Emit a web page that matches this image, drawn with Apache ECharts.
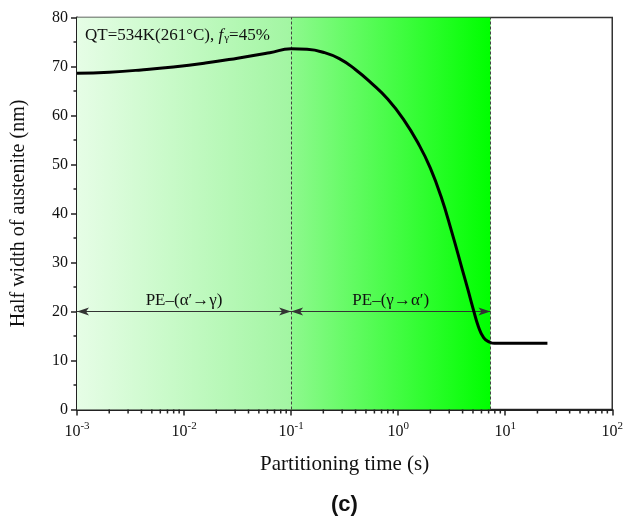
<!DOCTYPE html>
<html>
<head>
<meta charset="utf-8">
<script src="https://cdn.jsdelivr.net/npm/echarts@6/dist/echarts.min.js"></script>
<style>
  html, body { margin: 0; padding: 0; background: #fff; }
  #plot { width: 626px; height: 520px; }
</style>
</head>
<body>
<div id="plot"></div>
<script>
// 曲线数据 (partitioning time s, half width nm)
var times = [0.001, 0.002, 0.00398, 0.00794, 0.0158, 0.0316, 0.0631, 0.1, 0.141, 0.2, 0.282, 0.398, 0.562, 0.794, 1.122, 1.585, 1.995, 2.512, 3.162, 3.981, 4.467, 5.012, 5.623, 6.31, 7.079, 7.943, 10, 24.8];
var widths = [68.6, 68.85, 69.3, 69.9, 70.7, 71.7, 72.8, 73.6, 73.5, 72.9, 71.6, 69.4, 66.6, 63.4, 59.2, 53.8, 49.3, 43.5, 36.3, 28.5, 24.6, 20.6, 16.9, 14.6, 13.8, 13.5, 13.5, 13.5];

// 区域边界
var tStart = 0.001;
var tSplit = 0.1;
var tEnd = 7.28;
var arrowY = 20;
var regionLabels = ['PE\u2013(\u03b1\u2032\u2192\u03b3)', 'PE\u2013(\u03b3\u2192\u03b1\u2032)'];

// x 轴次刻度 (2..9 x 10^k)
var decades = [0.001, 0.01, 0.1, 1, 10];
var minorTicks = [];
decades.forEach(function (d) {
  for (var m = 2; m <= 9; m++) minorTicks.push([d * m, 0]);
});

var curve = times.map(function (t, i) { return [t, widths[i]]; });

var serif = 'Liberation Serif';
var myChart = echarts.init(document.getElementById('plot'));

var option = {
  animation: false,
  title: {
    left: 80, top: 17,
    text: '{a|QT=534K(261\u00b0C), }{i|f}{s|\u03b3}{a|=45%}',
    textStyle: {
      rich: {
        a: { fontFamily: serif, fontSize: 17, fontWeight: 'normal', color: '#111', lineHeight: 22, verticalAlign: 'bottom' },
        i: { fontFamily: serif, fontSize: 17, fontWeight: 'normal', fontStyle: 'italic', color: '#111', lineHeight: 22, verticalAlign: 'bottom', padding: [0, 1, 0, 0] },
        s: { fontFamily: serif, fontSize: 11, fontWeight: 'normal', color: '#111', lineHeight: 12, verticalAlign: 'bottom' }
      }
    }
  },
  graphic: [{
    type: 'text', left: 331, top: 494,
    style: { text: '(c)', font: 'bold 22px "Liberation Sans"', fill: '#111' }
  }],
  grid: {
    left: 77, right: 13, top: 17.5, bottom: 110.5,
    show: true, borderColor: '#333', borderWidth: 1.5
  },
  xAxis: {
    type: 'log', logBase: 10, min: 0.001, max: 100,
    name: 'Partitioning time (s)', nameLocation: 'middle', nameGap: 44,
    nameTextStyle: { fontFamily: serif, fontSize: 21, color: '#111' },
    axisLine: { lineStyle: { color: '#222', width: 2 } },
    axisTick: { inside: false, length: 6, lineStyle: { color: '#222', width: 1.5 } },
    splitLine: { show: false },
    axisLabel: {
      margin: 11,
      formatter: function (v) {
        var e = Math.round(Math.log10(v));
        return '{b|10}{s|' + e + '}';
      },
      rich: {
        b: { fontFamily: serif, fontSize: 16, color: '#111', lineHeight: 19, verticalAlign: 'bottom' },
        s: { fontFamily: serif, fontSize: 11, color: '#111', lineHeight: 11, verticalAlign: 'top' }
      }
    }
  },
  yAxis: {
    type: 'value', min: 0, max: 80, interval: 10,
    name: 'Half width of austenite (nm)', nameLocation: 'middle', nameGap: 48,
    nameTextStyle: { fontFamily: serif, fontSize: 20, color: '#111' },
    axisLine: { show: true, lineStyle: { color: '#222', width: 2 } },
    axisTick: { show: true, inside: false, length: 6, lineStyle: { color: '#222', width: 1.5 } },
    minorTick: { show: true, splitNumber: 2, length: 3.5, lineStyle: { color: '#222', width: 1.5 } },
    splitLine: { show: false },
    axisLabel: { margin: 9, fontFamily: serif, fontSize: 16, color: '#111' }
  },
  series: [
    {
      type: 'line',
      data: curve,
      smooth: 0.5,
      symbol: 'none',
      z: 5,
      lineStyle: { color: '#000', width: 3 },
      markArea: {
        silent: true,
        data: [
          [{ xAxis: tStart, itemStyle: { color: new echarts.graphic.LinearGradient(0, 0, 1, 0, [
              { offset: 0, color: '#e6fde6' }, { offset: 1, color: '#a2f6a2' }]) } }, { xAxis: tSplit }],
          [{ xAxis: tSplit, itemStyle: { color: new echarts.graphic.LinearGradient(0, 0, 1, 0, [
              { offset: 0, color: '#8ef98e' }, { offset: 1, color: '#00ff00' }]) } }, { xAxis: tEnd }]
        ]
      },
      markLine: {
        silent: true,
        symbol: 'none',
        label: { show: false },
        lineStyle: { color: '#444', type: [3, 2], width: 1 },
        data: [{ xAxis: tSplit }, { xAxis: tEnd }]
      }
    },
    {
      type: 'line',
      data: [],
      markLine: {
        silent: true,
        symbol: ['arrow', 'arrow'],
        symbolSize: [6, 12],
        lineStyle: { color: '#333', type: 'solid', width: 1 },
        label: {
          show: true, position: 'middle', distance: 2,
          fontFamily: serif, fontSize: 17, color: '#111',
          formatter: function (p) { return p.name; }
        },
        data: [
          [{ name: regionLabels[0], coord: [tStart, arrowY] }, { coord: [tSplit, arrowY] }],
          [{ name: regionLabels[1], coord: [tSplit, arrowY] }, { coord: [tEnd, arrowY] }]
        ]
      }
    },
    {
      type: 'custom',
      data: minorTicks,
      silent: true,
      clip: false,
      z: 6,
      renderItem: function (params, api) {
        var p = api.coord([api.value(0), api.value(1)]);
        return {
          type: 'line',
          shape: { x1: p[0], y1: p[1], x2: p[0], y2: p[1] + 4 },
          style: { stroke: '#222', lineWidth: 1.5 }
        };
      }
    }
  ]
};

myChart.setOption(option);
</script>
</body>
</html>
